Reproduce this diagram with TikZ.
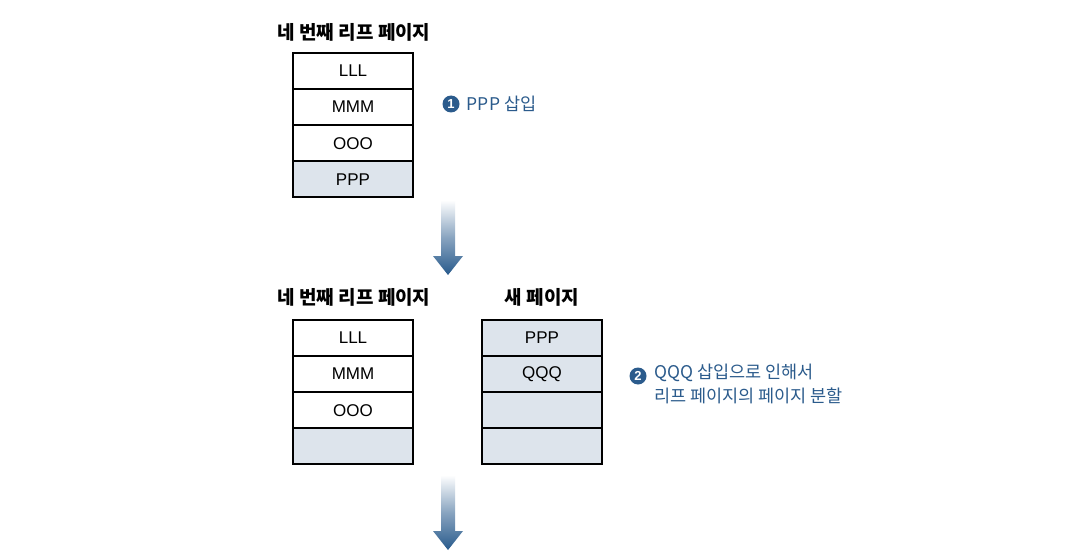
\documentclass[tikz,border=0pt]{standalone}
\usepackage{fontspec}
\setmainfont{Liberation Sans}
\newfontfamily\kr{Noto Sans CJK KR}
\definecolor{cellfill}{HTML}{DDE4EC}
\definecolor{labblue}{HTML}{2B5B8C}
\definecolor{arrblue}{HTML}{285A8C}
\begin{document}
\begin{tikzpicture}[x=1pt,y=-1pt,
  cell/.style={draw=black, line width=1.1pt, minimum width=120pt, minimum height=35pt, inner sep=0pt, font=\fontsize{17}{17}\selectfont},
  filled/.style={cell, fill=cellfill},
  title/.style={font=\kr\bfseries\fontsize{19}{19}\selectfont, anchor=center},
  numdot/.style={circle, fill=labblue, text=white, inner sep=0pt, minimum size=17pt, font=\bfseries\fontsize{13}{13}\selectfont},
  note/.style={text=labblue, font=\kr\fontsize{17.5}{24}\selectfont, inner sep=0pt, anchor=west, align=left},
  outer/.style={draw=black, line width=1.8pt},
  downarrow/.style={top color=white, bottom color=arrblue, middle color=arrblue!55}
]
\useasboundingbox (0,0) rectangle (1076,559);
\fill[white] (0,0) rectangle (1076,559);

% ---- first stage
\node[title] (t1) at (354,32) {네 번째 리프 페이지};
\node[cell] (a1) at (353,71) {LLL};
\node[cell, anchor=north] (a2) at (a1.south) {MMM};
\node[cell, anchor=north] (a3) at (a2.south) {OOO};
\node[filled, anchor=north] (a4) at (a3.south) {PPP};
\draw[outer] (a1.north west) rectangle (a4.south east);

\node[numdot] (n1) at (451,104) {1};
\node[note, anchor=west] (l1) at ([xshift=7pt]n1.east) {PPP 삽입};

% arrow 1
\shade[downarrow] (441,200) -- (455,200) -- (455,256) -- (463,256) -- (448,275) -- (433,256) -- (441,256) -- cycle;

% ---- second stage
\node[title] (t2) at (354,297) {네 번째 리프 페이지};
\node[title] (t3) at (542,297) {새 페이지};

\node[cell] (b1) at (353,338) {LLL};
\node[cell, anchor=north] (b2) at (b1.south) {MMM};
\node[cell, anchor=north] (b3) at (b2.south) {OOO};
\node[filled, anchor=north] (b4) at (b3.south) {};
\draw[outer] (b1.north west) rectangle (b4.south east);

\node[filled] (c1) at (542,338) {PPP};
\node[filled, anchor=north] (c2) at (c1.south) {QQQ};
\node[filled, anchor=north] (c3) at (c2.south) {};
\node[filled, anchor=north] (c4) at (c3.south) {};
\draw[outer] (c1.north west) rectangle (c4.south east);

\node[numdot] (n2) at (638,376) {2};
\node[note, anchor=north west] (l2) at (654,364) {QQQ 삽입으로 인해서\\리프 페이지의 페이지 분할};

% arrow 2
\shade[downarrow] (441,475) -- (455,475) -- (455,531) -- (463,531) -- (448,550) -- (433,531) -- (441,531) -- cycle;
\end{tikzpicture}
\end{document}
